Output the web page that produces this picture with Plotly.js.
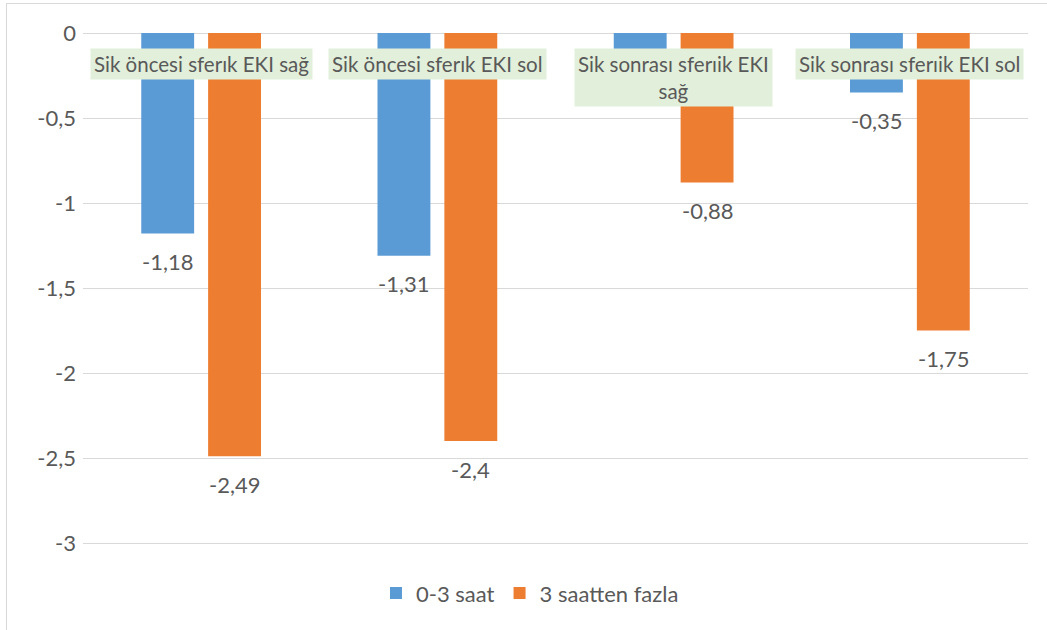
<!DOCTYPE html>
<html>
<head>
<meta charset="utf-8">
<script src="https://cdn.plot.ly/plotly-3.0.1.min.js"></script>
<style>
  html, body { margin: 0; padding: 0; background: #ffffff; }
  #wrap { position: relative; width: 1047px; height: 630px; overflow: hidden; }
  #chart { width: 1047px; height: 630px; }
  #frame { position: absolute; left: 6px; top: 3px; width: 1100px; height: 700px;
           border: 1px solid #D9D9D9; pointer-events: none; }
</style>
</head>
<body>
<div id="wrap">
  <div id="chart"></div>
  <div id="frame"></div>
</div>
<script>
// Categories (EKI measurements before / after)
const categories = [
  "Sik öncesi sferık EKI sağ",
  "Sik öncesi sferık EKI sol",
  "Sik sonrası sferıik EKI<br>sağ",
  "Sik sonrası sferıik EKI sol"
];
const seriesNames = ["0-3 saat", "3 saatten fazla"];
const values03 = [-1.18, -1.31, -0.15, -0.35];
const valuesOver3 = [-2.49, -2.40, -0.88, -1.75];
const yTicks = [0, -0.5, -1, -1.5, -2, -2.5, -3];

const blue = "#5B9BD5";
const orange = "#ED7D31";
const textColor = "#595959";
const fontFam = "Lato, 'Liberation Sans', sans-serif";

const keys = categories.map((c, i) => "c" + i);

const traces = [
  { type: "bar", name: seriesNames[0], x: keys, y: values03,
    marker: { color: blue }, hoverinfo: "none" },
  { type: "bar", name: seriesNames[1], x: keys, y: valuesOver3,
    marker: { color: orange }, hoverinfo: "none" }
];

const fmt = v => String(v).replace(".", ",");

// value labels below each bar end; a label that would fall under a
// category box is left out, then the category boxes are laid on top
const LABEL_SHIFT = -28;
const annotations = [];
[values03, valuesOver3].forEach((vals, s) => {
  vals.forEach((v, i) => {
    if (v > -0.25) return;
    annotations.push({
      x: keys[i], y: v, xref: "x", yref: "y",
      text: fmt(v), showarrow: false,
      xshift: s === 0 ? -33.5 : 33.5, yshift: LABEL_SHIFT,
      yanchor: "middle",
      font: { family: fontFam, size: 22, color: textColor }
    });
  });
});
categories.forEach((c, i) => {
  annotations.push({
    x: keys[i], y: 0, xref: "x", yref: "y",
    text: c, showarrow: false, yanchor: "top", yshift: -15,
    bgcolor: "#E2EFDA", borderpad: 3,
    font: { family: fontFam, size: 20.5, color: textColor }
  });
});

const layout = {
  width: 1047, height: 630,
  margin: { l: 83, r: 19, t: 33, b: 53 },
  paper_bgcolor: "#ffffff", plot_bgcolor: "#ffffff",
  separators: ", ",
  barmode: "group", bargap: 0.434, bargroupgap: 0.209,
  font: { family: fontFam, size: 22, color: textColor },
  xaxis: { showticklabels: false, showgrid: false, zeroline: false,
           showline: false, ticks: "" },
  yaxis: { range: [-3.2, 0], tickvals: yTicks, ticktext: yTicks.map(fmt),
           showgrid: true, gridcolor: "#D9D9D9", gridwidth: 1,
           zeroline: true, zerolinecolor: "#D9D9D9", zerolinewidth: 1,
           showline: false, ticks: "", ticklabelstandoff: 6,
           tickfont: { family: fontFam, size: 22, color: textColor } },
  showlegend: true,
  legend: { orientation: "h", x: 0.473, xanchor: "center", y: -0.03, yanchor: "middle",
            itemwidth: 30,
            font: { family: fontFam, size: 22, color: textColor } },
  annotations: annotations
};

Plotly.newPlot("chart", traces, layout, { staticPlot: true, displayModeBar: false });
</script>
</body>
</html>
